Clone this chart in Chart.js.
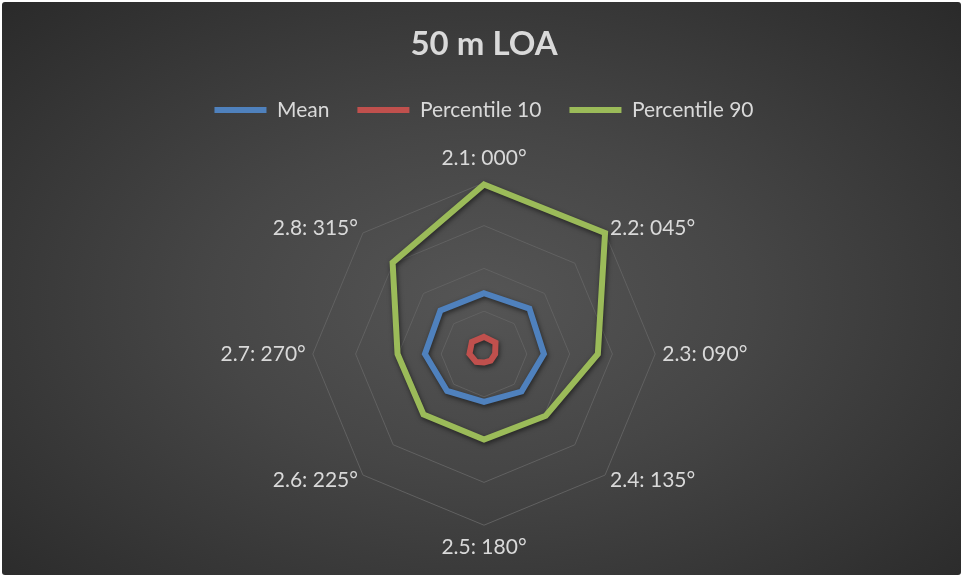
<!DOCTYPE html>
<html>
<head>
<meta charset="utf-8">
<script src="https://cdn.jsdelivr.net/npm/chart.js@4.4.1/dist/chart.umd.min.js"></script>
<style>
    html, body { margin: 0; padding: 0; background: #ffffff; }
    #wrap {
        position: absolute; left: 2px; top: 2px; width: 959px; height: 573px;
        border-radius: 3px;
        background: radial-gradient(ellipse farthest-corner at 50% 52%, #555555 0%, #464646 40%, #2a2a2a 100%);
    }
</style>
</head>
<body>
<div id="wrap"><canvas id="radar"></canvas></div>
<script>
// Directions around the compass
const directions = ['2.1: 000°', '2.2: 045°', '2.3: 090°', '2.4: 135°', '2.5: 180°', '2.6: 225°', '2.7: 270°', '2.8: 315°'];

// Series values
const meanValues = [0.71, 0.75, 0.70, 0.62, 0.56, 0.61, 0.69, 0.72];
const p10Values  = [0.20, 0.19, 0.13, 0.11, 0.10, 0.13, 0.17, 0.20];
const p90Values  = [1.98, 2.00, 1.33, 1.02, 1.00, 1.00, 1.01, 1.51];

const textColor = '#d9d9d9';
const fontFamily = "Lato, 'Open Sans', sans-serif";

// soft drop shadow under the series lines
const shadowPlugin = {
    id: 'lineShadow',
    beforeDatasetsDraw(chart) {
        const ctx = chart.ctx;
        ctx.save();
        ctx.shadowColor = 'rgba(0,0,0,0.55)';
        ctx.shadowBlur = 5;
        ctx.shadowOffsetX = 1;
        ctx.shadowOffsetY = 2;
    },
    afterDatasetsDraw(chart) {
        chart.ctx.restore();
    }
};

// Excel puts the diagonal labels beside the vertex, not above/below it,
// so the point labels are drawn here from the scale's own positions
const directionLabels = {
    id: 'directionLabels',
    afterDraw(chart) {
        const scale = chart.scales.r;
        const ctx = chart.ctx;
        ctx.save();
        ctx.font = '21px ' + fontFamily;
        ctx.fillStyle = textColor;
        ctx.textBaseline = 'middle';
        directions.forEach((label, i) => {
            const p = scale.getPointPosition(i, scale.drawingArea + 7);
            const dx = p.x - scale.xCenter;
            const dy = p.y - scale.yCenter;
            let y = p.y;
            if (Math.abs(dx) < 1) {
                ctx.textAlign = 'center';
                y += dy < 0 ? -18 : 15;
            } else {
                ctx.textAlign = dx > 0 ? 'left' : 'right';
            }
            ctx.fillText(label, p.x, y);
        });
        ctx.restore();
    }
};

function series(label, data, color) {
    return {
        label: label,
        data: data,
        borderColor: color,
        backgroundColor: color,
        borderWidth: 6,
        borderCapStyle: 'round',
        borderJoinStyle: 'miter',
        fill: false,
        pointRadius: 0,
        pointHoverRadius: 0
    };
}

new Chart(document.getElementById('radar'), {
    type: 'radar',
    data: {
        labels: directions,
        datasets: [
            series('Mean', meanValues, '#4f81bd'),
            series('Percentile 10', p10Values, '#c0504d'),
            series('Percentile 90', p90Values, '#9bbb59')
        ]
    },
    options: {
        responsive: true,
        maintainAspectRatio: false,
        animation: false,
        layout: { padding: { left: 15, right: 10, top: 0, bottom: 15 } },
        scales: {
            r: {
                min: 0,
                max: 2,
                ticks: { stepSize: 0.5, display: false },
                angleLines: { display: false },
                grid: { color: '#616161', lineWidth: 1 },
                pointLabels: {
                    // kept for sizing the plot; the visible text comes from directionLabels
                    color: 'rgba(0,0,0,0)',
                    font: { family: fontFamily, size: 21 },
                    padding: 8
                }
            }
        },
        plugins: {
            title: {
                display: true,
                text: '50 m LOA',
                color: textColor,
                font: { family: fontFamily, size: 33, weight: 'bold' },
                padding: { top: 23, bottom: 7 }
            },
            // empty subtitle used as a spacer between legend and plot
            subtitle: {
                display: true,
                text: '',
                weight: 500,
                font: { size: 10, lineHeight: 1 },
                padding: { top: 9, bottom: 0 }
            },
            legend: {
                display: true,
                position: 'top',
                labels: {
                    color: textColor,
                    font: { family: fontFamily, size: 21 },
                    usePointStyle: true,
                    pointStyle: 'line',
                    pointStyleWidth: 52,
                    padding: 28
                }
            },
            tooltip: { enabled: false }
        }
    },
    plugins: [shadowPlugin, directionLabels]
});
</script>
</body>
</html>
